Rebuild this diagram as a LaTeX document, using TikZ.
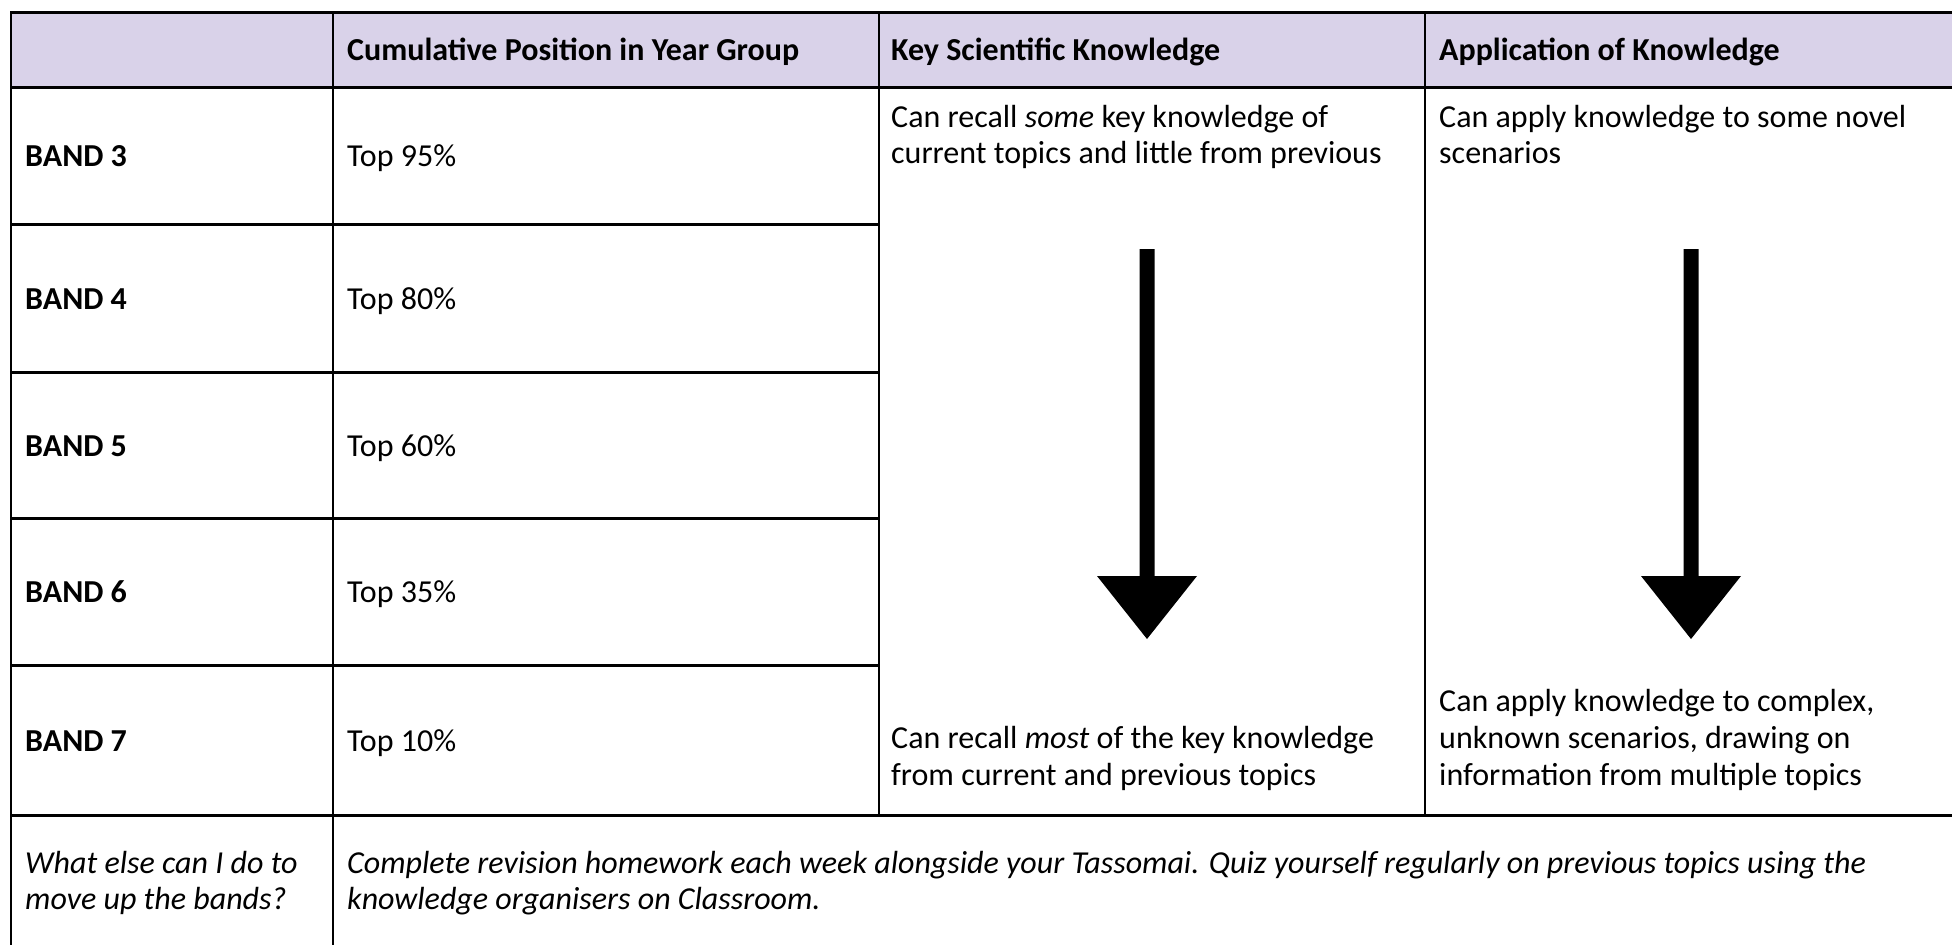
\documentclass[tikz,border=0pt]{standalone}
\usepackage{fontspec}
\setmainfont{Carlito}
\begin{document}
\begin{tikzpicture}[x=1pt,y=-1pt,
  hline/.style={line width=3pt},
  vline/.style={line width=2.2pt},
  txt/.style={anchor=base west,inner sep=0pt,font=\fontsize{32}{36.6}\selectfont},
  htxt/.style={txt,font=\fontsize{32}{36.6}\selectfont\bfseries},
  itxt/.style={txt,font=\fontsize{32}{36.6}\selectfont\itshape},
  bigarrow/.style={fill=black}]
\useasboundingbox (0,0) rectangle (1952,945);
\fill[white] (0,0) rectangle (1952,945);
% header fill
\fill[fill={rgb,255:red,217;green,210;blue,233}] (11,12) rectangle (1952,87);
% horizontal rules
\draw[hline] (10,12) -- (1952,12);
\draw[hline] (10,87) -- (1952,87);
\foreach \yy in {224,372,518,665} \draw[hline] (10,\yy) -- (879,\yy);
\draw[hline] (10,815) -- (1952,815);
% vertical rules
\draw[vline] (11,11) -- (11,945);
\draw[vline] (333,11) -- (333,945);
\draw[vline] (879,11) -- (879,815);
\draw[vline] (1425,11) -- (1425,815);
% header
\node[htxt] (h2) at (347,60) {Cumulative Position in Year Group};
\node[htxt] (h3) at (891,60) {Key Scientific Knowledge};
\node[htxt] (h4) at (1439,60) {Application of Knowledge};
% bands
\node[htxt] (b3) at (25,166) {BAND 3};
\node[htxt] (b4) at (25,309) {BAND 4};
\node[htxt] (b5) at (25,456) {BAND 5};
\node[htxt] (b6) at (25,602) {BAND 6};
\node[htxt] (b7) at (25,751) {BAND 7};
\node[txt] (p3) at (347,166) {Top 95\%};
\node[txt] (p4) at (347,309) {Top 80\%};
\node[txt] (p5) at (347,456) {Top 60\%};
\node[txt] (p6) at (347,602) {Top 35\%};
\node[txt] (p7) at (347,751) {Top 10\%};
% key scientific knowledge
\node[txt] (k1) at (891,127) {Can recall \textit{some} key knowledge of};
\node[txt] (k2) at (891,163.6) {current topics and little from previous};
\node[txt] (k3) at (891,748.4) {Can recall \textit{most} of the key knowledge};
\node[txt] (k4) at (891,785) {from current and previous topics};
% application
\node[txt] (a1) at (1439,127) {Can apply knowledge to some novel};
\node[txt] (a2) at (1439,163.6) {scenarios};
\node[txt] (a3) at (1439,711.8) {Can apply knowledge to complex,};
\node[txt] (a4) at (1439,748.4) {unknown scenarios, drawing on};
\node[txt] (a5) at (1439,785) {information from multiple topics};
% bottom row
\node[itxt] (q1) at (25,873) {What else can I do to};
\node[itxt] (q2) at (25,909) {move up the bands?};
\node[itxt] (r1) at (347,873) {Complete revision homework each week alongside your Tassomai. Quiz yourself regularly on previous topics using the};
\node[itxt] (r2) at (347,909) {knowledge organisers on Classroom.};
% arrows
\foreach \cx in {1147,1691} {
  \fill[bigarrow] (\cx-7.5,249) -- (\cx+7.5,249) -- (\cx+7.5,576) -- (\cx+50,576)
     -- (\cx,639) -- (\cx-50,576) -- (\cx-7.5,576) -- cycle;
}
\end{tikzpicture}
\end{document}
